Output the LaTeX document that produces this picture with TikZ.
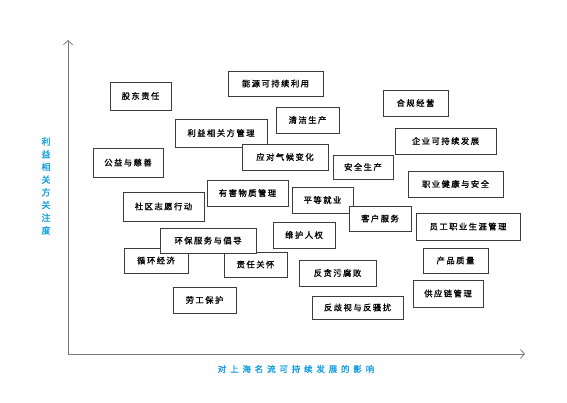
\documentclass[tikz,border=0pt]{standalone}
\usepackage{fontspec}
\usetikzlibrary{arrows.meta}
\newfontfamily\cjk[LetterSpace=18,FakeBold=1.2]{Noto Sans CJK SC}
\newfontfamily\cjkwide[LetterSpace=45,FakeBold=1.5]{Noto Sans CJK SC}
\newfontfamily\cjkvert[FakeBold=1.5]{Noto Sans CJK SC}
\definecolor{lblue}{RGB}{20,160,225}
\definecolor{axisgray}{RGB}{120,120,120}
\definecolor{boxgray}{RGB}{60,60,60}
\tikzset{
  cbox/.style={draw=boxgray, line width=0.9pt, fill=white, inner sep=0pt,
    font=\cjk\fontsize{8.3}{10}\selectfont, text=black},
  axisline/.style={draw=axisgray, line width=0.8pt, -{Straight Barb[length=4pt,width=9pt]}}
}
\newcommand{\bx}[6]{\node[cbox, minimum width={#3-#1}, minimum height={#4-#2}] (#5) at ({(#1+#3)/2},{(#2+#4)/2}) {#6};}
\begin{document}
\begin{tikzpicture}[x=1pt,y=-1pt]
\useasboundingbox (0,0) rectangle (567,403);
\coordinate (o) at (68,354);
\coordinate (ytop) at (68,40);
\coordinate (xend) at (525,354);
\draw[axisline] (o) -- (ytop);
\draw[axisline] (o) -- (xend);
\node[text=lblue, font=\cjkvert\fontsize{9}{12.7}\selectfont, align=center, inner sep=0pt] (ylab) at (46,186) {利\\益\\相\\关\\方\\关\\注\\度};
\node[text=lblue, font=\cjkwide\fontsize{8.5}{10}\selectfont, inner sep=0pt] (xlab) at (296,369) {对上海名流可持续发展的影响};
\bx{110}{82}{171}{110}{b1}{股东责任}
\bx{228}{71}{323}{96}{b2}{能源可持续利用}
\bx{276}{107}{339}{133}{b3}{清洁生产}
\bx{175}{119}{267}{147}{b4}{利益相关方管理}
\bx{93}{148}{163}{177}{b5}{公益与慈善}
\bx{242}{144}{328}{170}{b6}{应对气候变化}
\bx{383}{90}{448}{116}{b7}{合规经营}
\bx{395}{128}{496}{154}{b8}{企业可持续发展}
\bx{333}{155}{393}{179}{b9}{安全生产}
\bx{408}{171}{503}{197}{b10}{职业健康与安全}
\bx{123}{192}{204}{221}{b11}{社区志愿行动}
\bx{207}{180}{288}{206}{b12}{有害物质管理}
\bx{292}{187}{353}{213}{b13}{平等就业}
\bx{349}{206}{411}{231}{b14}{客户服务}
\bx{416}{213}{520}{240}{b15}{员工职业生涯管理}
\bx{273}{222}{335}{248}{b16}{维护人权}
\bx{124}{248}{188}{273}{b17}{循环经济}
\bx{224}{252}{287}{277}{b18}{责任关怀}
\bx{160}{228}{256}{253}{b19}{环保服务与倡导}
\bx{173}{287}{236}{313}{b20}{劳工保护}
\bx{299}{260}{376}{286}{b21}{反贪污腐败}
\bx{312}{296}{403}{319}{b22}{反歧视与反骚扰}
\bx{423}{248}{488}{273}{b23}{产品质量}
\bx{413}{280}{483}{307}{b24}{供应链管理}
\end{tikzpicture}
\end{document}
